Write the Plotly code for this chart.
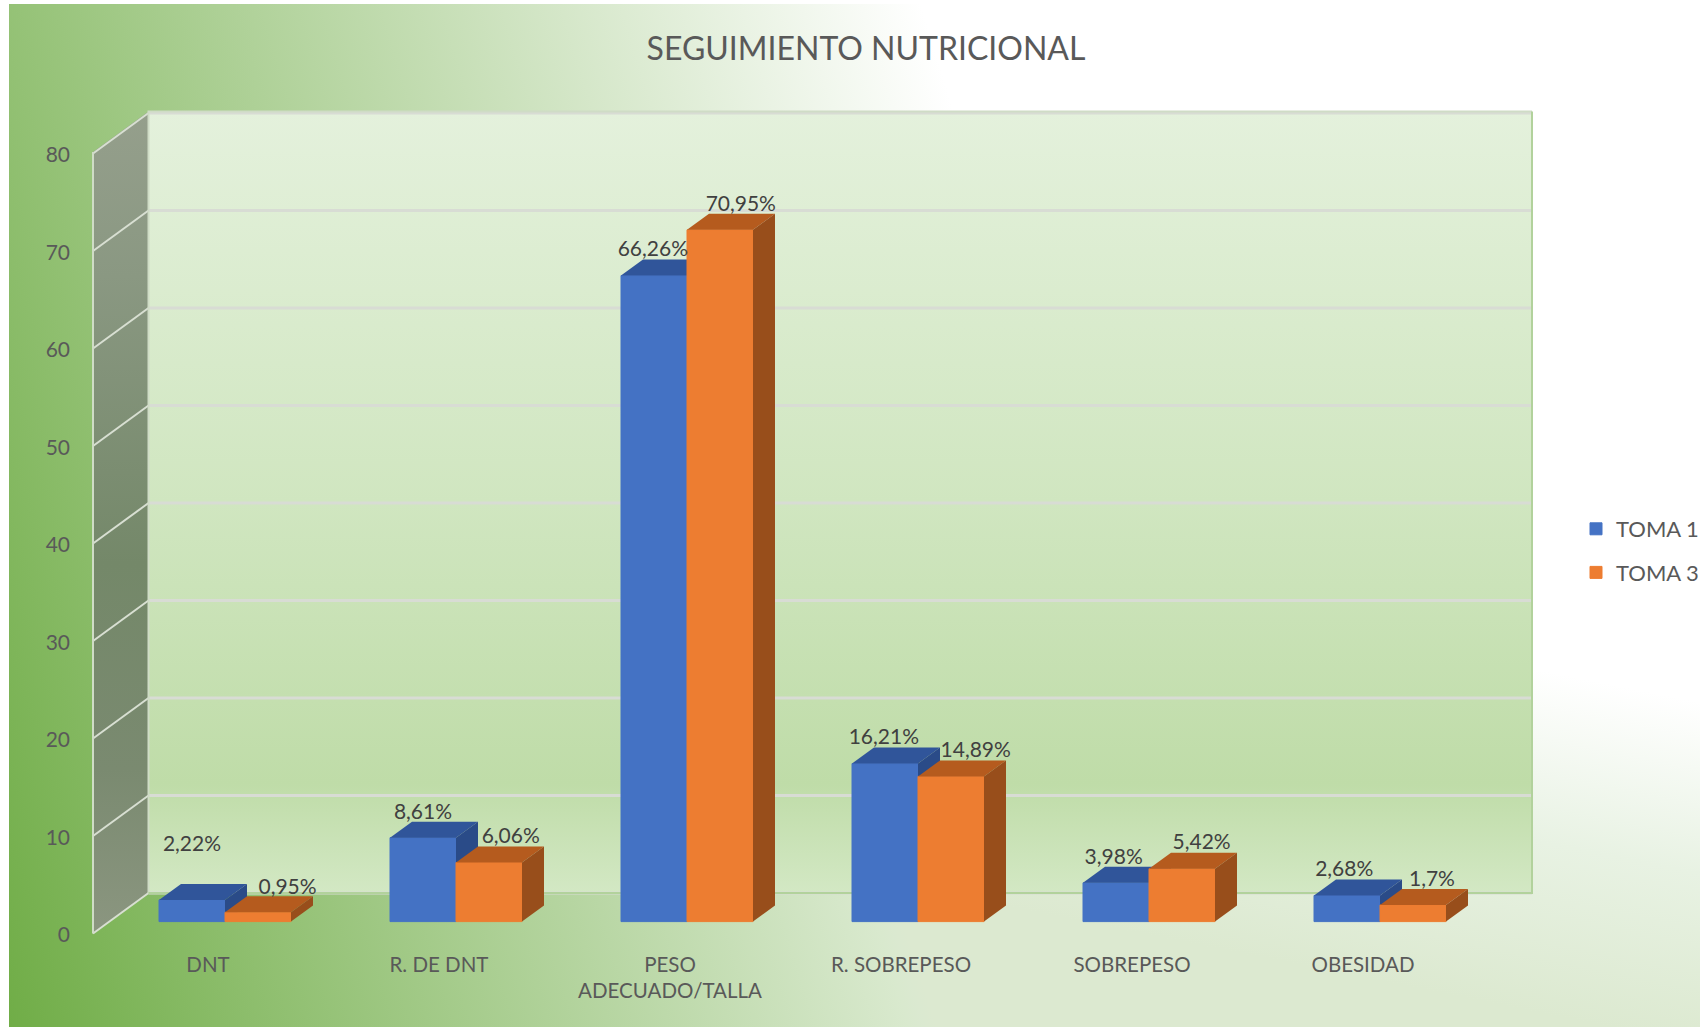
import base64
import plotly.graph_objects as go

# ---- data ----
categories = ["DNT", "R. DE DNT", "PESO<br>ADECUADO/TALLA", "R. SOBREPESO", "SOBREPESO", "OBESIDAD"]
toma1 = [2.22, 8.61, 66.26, 16.21, 3.98, 2.68]
toma3 = [0.95, 6.06, 70.95, 14.89, 5.42, 1.7]
toma1_text = ["2,22%", "8,61%", "66,26%", "16,21%", "3,98%", "2,68%"]
toma3_text = ["0,95%", "6,06%", "70,95%", "14,89%", "5,42%", "1,7%"]
y_ticks = [0, 10, 20, 30, 40, 50, 60, 70, 80]

# label nudges (category units / value units)
toma1_label_dx = [0, 0, -0.005, -0.005, -0.01, -0.012]
toma1_label_dy = [5.6, 2.5, 2.5, 2.5, 2.5, 2.55]
toma3_label_dx = [0.128, 0.094, 0.09, 0.107, 0.085, 0.082]
toma3_label_dy = [2.4, 2.5, 2.5, 2.5, 2.55, 2.45]

W, H = 1700, 1027
PX_X = 231.0      # pixels per category
PX_Y = 9.75       # pixels per value unit
X0_PX = 225.0     # pixel of category 0 (junction of the two bars)
Y0_PX = 921.6     # pixel of the bars' baseline

BAR_W = 66 / PX_X
DEPTH_X = 22 / PX_X
DEPTH_Y = 16 / PX_Y

FRONT_X = (93 - X0_PX) / PX_X
BACK_X = (148.5 - X0_PX) / PX_X
RIGHT_X = (1532 - X0_PX) / PX_X
FRONT_SHIFT = -(933.5 - Y0_PX) / PX_Y
BACK_SHIFT = (Y0_PX - 893) / PX_Y
TOP_V = 80.15

x_range = [(0 - X0_PX) / PX_X, (W - X0_PX) / PX_X]
y_range = [(Y0_PX - H) / PX_Y, Y0_PX / PX_Y]

LABEL_SHIFT_PX = 17
x2_range = [x_range[0] + LABEL_SHIFT_PX / PX_X, x_range[1] + LABEL_SHIFT_PX / PX_X]
TICK_LABEL_DROP = 1.6 / PX_Y
y2_range = [y_range[0] - FRONT_SHIFT + TICK_LABEL_DROP, y_range[1] - FRONT_SHIFT + TICK_LABEL_DROP]

TXT = "#595959"
DATA_TXT = "#404040"
FONT = "Lato, Carlito, 'Open Sans', sans-serif"

bg_svg = """<svg xmlns='http://www.w3.org/2000/svg' width='1691' height='1023' viewBox='0 0 1691 1023'>
<defs>
<linearGradient id='a' gradientUnits='userSpaceOnUse' x1='0' y1='1023' x2='1121' y2='677'>
<stop offset='0' stop-color='#70ad47'/><stop offset='1' stop-color='#ffffff'/></linearGradient>
<linearGradient id='b' gradientUnits='userSpaceOnUse' x1='1600' y1='1023' x2='1666' y2='693'>
<stop offset='0' stop-color='#dce9d0'/><stop offset='0.5' stop-color='#e8f2e3'/><stop offset='1' stop-color='#ffffff'/></linearGradient>
</defs>
<rect width='1691' height='1023' fill='url(#a)'/>
<rect width='1691' height='1023' fill='url(#b)' style='mix-blend-mode:darken'/>
</svg>"""
bg_uri = "data:image/svg+xml;base64," + base64.b64encode(bg_svg.encode()).decode()

fig = go.Figure()

# side wall
fig.add_trace(go.Scatter(
    x=[FRONT_X, BACK_X, BACK_X, FRONT_X, FRONT_X],
    y=[FRONT_SHIFT, BACK_SHIFT, TOP_V + BACK_SHIFT, TOP_V + FRONT_SHIFT, FRONT_SHIFT],
    mode="lines", line=dict(width=0), fill="toself",
    fillgradient=dict(type="vertical", colorscale=[[0, "#8b9680"], [0.2, "#7a8a70"], [0.45, "#748869"], [0.8, "#8a9882"], [1, "#959f8c"]]),
    showlegend=False, hoverinfo="skip", zorder=0))
# back wall
fig.add_trace(go.Scatter(
    x=[BACK_X, RIGHT_X, RIGHT_X, BACK_X, BACK_X],
    y=[BACK_SHIFT, BACK_SHIFT, TOP_V + BACK_SHIFT, TOP_V + BACK_SHIFT, BACK_SHIFT],
    mode="lines", line=dict(width=0), fill="toself",
    fillgradient=dict(type="vertical", colorscale=[[0, "#d3e8c4"], [0.14, "#bfdca8"], [0.5, "#d0e6c0"], [1, "#e4f1dc"]]),
    showlegend=False, hoverinfo="skip", zorder=0))

# gridlines on the back wall, and their diagonals on the side wall
gx, gy, dx_, dy_ = [], [], [], []
for v in y_ticks:
    gx += [BACK_X, RIGHT_X, None]
    gy += [v + BACK_SHIFT, v + BACK_SHIFT, None]
    dx_ += [FRONT_X, BACK_X, None]
    dy_ += [v + FRONT_SHIFT, v + BACK_SHIFT, None]
fig.add_trace(go.Scatter(x=gx, y=gy, mode="lines", line=dict(color="#d8dcd4", width=3),
                         showlegend=False, hoverinfo="skip", zorder=0))
fig.add_trace(go.Scatter(x=dx_, y=dy_, mode="lines", line=dict(color="#d8dfd2", width=2),
                         showlegend=False, hoverinfo="skip", zorder=0))
# wall edges
fig.add_trace(go.Scatter(
    x=[FRONT_X, FRONT_X, None, BACK_X, BACK_X, RIGHT_X],
    y=[FRONT_SHIFT, TOP_V + FRONT_SHIFT, None, BACK_SHIFT, TOP_V + BACK_SHIFT, TOP_V + BACK_SHIFT],
    mode="lines", line=dict(color="#cfdcc6", width=2), showlegend=False, hoverinfo="skip", zorder=0))
fig.add_trace(go.Scatter(
    x=[BACK_X, RIGHT_X, RIGHT_X],
    y=[BACK_SHIFT, BACK_SHIFT, TOP_V + BACK_SHIFT],
    mode="lines", line=dict(color="#b2d29c", width=2), showlegend=False, hoverinfo="skip", zorder=0))


def add_series(name, values, offset, front, top, side, z):
    idx = list(range(len(values)))
    fig.add_trace(go.Bar(x=idx, y=values, width=BAR_W, offset=offset, name=name,
                         marker=dict(color=front, line=dict(width=1, color=front)),
                         legendgroup=name, zorder=z, hoverinfo="x+y"))
    tx, ty, sx, sy = [], [], [], []
    for i, v in zip(idx, values):
        l, r = i + offset, i + offset + BAR_W
        tx += [l, r, r + DEPTH_X, l + DEPTH_X, l, None]
        ty += [v, v, v + DEPTH_Y, v + DEPTH_Y, v, None]
        sx += [r, r + DEPTH_X, r + DEPTH_X, r, r, None]
        sy += [0, DEPTH_Y, v + DEPTH_Y, v, 0, None]
    fig.add_trace(go.Scatter(x=tx, y=ty, mode="lines", line=dict(width=0), fill="toself",
                             fillcolor=top, showlegend=False, hoverinfo="skip", zorder=z))
    fig.add_trace(go.Scatter(x=sx, y=sy, mode="lines", line=dict(width=0), fill="toself",
                             fillcolor=side, showlegend=False, hoverinfo="skip", zorder=z))


add_series("TOMA 1", toma1, -BAR_W, "#4472c4", "#30559a", "#2a4b88", 1)
add_series("TOMA 3", toma3, 0, "#ed7d31", "#b55b1e", "#984e1b", 2)

# data labels
lx, ly, lt = [], [], []
for i in range(len(categories)):
    lx.append(i - BAR_W / 2 + toma1_label_dx[i])
    ly.append(toma1[i] + toma1_label_dy[i])
    lt.append(toma1_text[i])
    lx.append(i + BAR_W / 2 + toma3_label_dx[i])
    ly.append(toma3[i] + toma3_label_dy[i])
    lt.append(toma3_text[i])
fig.add_trace(go.Scatter(x=lx, y=ly, text=lt, mode="text", textposition="middle center",
                         textfont=dict(family=FONT, size=21, color=DATA_TXT),
                         showlegend=False, hoverinfo="skip", zorder=3))

# invisible carrier for the visible tick-label axes
fig.add_trace(go.Scatter(x=list(range(len(categories))), y=y_ticks[:len(categories)],
                         xaxis="x2", yaxis="y2", mode="markers", marker=dict(opacity=0),
                         showlegend=False, hoverinfo="skip"))

fig.update_layout(
    width=W, height=H,
    autosize=False,
    margin=dict(l=0, r=0, t=0, b=0, autoexpand=False),
    paper_bgcolor="white", plot_bgcolor="rgba(0,0,0,0)",
    barmode="overlay",
    title=dict(text="SEGUIMIENTO NUTRICIONAL", x=866 / W, y=1 - 49 / H, xanchor="center", yanchor="middle",
               font=dict(family=FONT, size=32, color=TXT)),
    xaxis=dict(range=x_range, visible=False, showgrid=False, zeroline=False, fixedrange=True),
    yaxis=dict(range=y_range, visible=False, showgrid=False, zeroline=False, fixedrange=True),
    xaxis2=dict(range=x2_range, overlaying="x", anchor="free", position=1 - 950 / H, side="bottom",
                tickmode="array", tickvals=list(range(len(categories))), ticktext=categories,
                tickangle=0, showgrid=False, zeroline=False, showline=False, ticks="",
                tickfont=dict(family=FONT, size=20.5, color=TXT), fixedrange=True),
    yaxis2=dict(range=y2_range, overlaying="y", anchor="free", position=70 / W, side="left",
                tickmode="array", tickvals=y_ticks, showgrid=False, zeroline=False, showline=False,
                ticks="", tickfont=dict(family=FONT, size=21, color=TXT), fixedrange=True),
    legend=dict(x=1576 / W, y=1 - 508 / H, xanchor="left", yanchor="top", bgcolor="rgba(0,0,0,0)",
                font=dict(family=FONT, size=22, color=TXT), tracegroupgap=12, borderwidth=0),
    images=[dict(source=bg_uri, xref="paper", yref="paper", x=9 / W, y=1 - 4 / H,
                 sizex=1691 / W, sizey=1023 / H, sizing="stretch", xanchor="left", yanchor="top",
                 layer="below")],
)

fig.write_html("out.html", config={"displayModeBar": False},
               post_script="document.body.style.margin='0';document.body.style.overflow='hidden';")
